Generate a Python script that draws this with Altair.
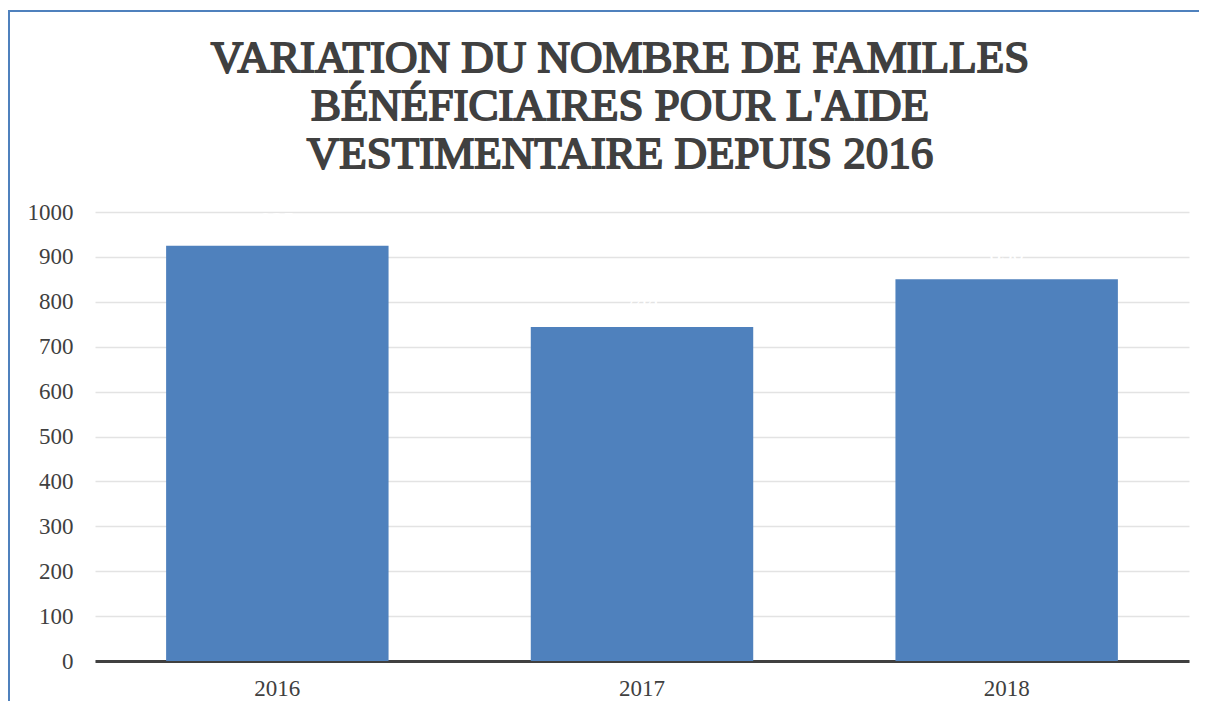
import altair as alt
import pandas as pd

years = ["2016", "2017", "2018"]
familles = [925, 744, 850]
title_lines = ["VARIATION DU NOMBRE DE FAMILLES", "BÉNÉFICIAIRES POUR L'AIDE",
               "VESTIMENTAIRE DEPUIS 2016"]

df = pd.DataFrame({"annee": years, "familles": familles})

W, H = 1094, 449
FONT = "Liberation Serif"

base = alt.Chart(df)

bars = base.mark_bar(color="#4F81BD").encode(
    x=alt.X("annee:N", title=None, sort=years,
            scale=alt.Scale(paddingInner=0.39, paddingOuter=0.195),
            axis=alt.Axis(labelAngle=0, labelFont=FONT, labelFontSize=23,
                          labelColor="#404040", domainColor="#404040",
                          domainWidth=3, ticks=False, labelPadding=16)),
    y=alt.Y("familles:Q", title=None,
            scale=alt.Scale(domain=[0, 1000]),
            axis=alt.Axis(values=list(range(0, 1001, 100)), format="d",
                          labelFont=FONT, labelFontSize=23, labelColor="#404040",
                          domain=False, ticks=False, labelPadding=22,
                          gridColor="#e3e3e3", gridWidth=1.5)),
)

labels = base.mark_text(color="white", font=FONT, fontSize=23,
                        baseline="middle", dy=-25).encode(
    x=alt.X("annee:N", sort=years),
    y="familles:Q",
    text="familles:Q",
)

title = alt.Chart(pd.DataFrame({"t": [0]})).mark_text(
    text=title_lines, font=FONT, fontSize=45, fontWeight="normal",
    color="#404040", stroke="#404040", strokeWidth=1.8,
    lineHeight=48, align="center", baseline="alphabetic",
).encode(x=alt.value(525), y=alt.value(-140))

border = base.mark_rect(filled=False, stroke="#4F81BD", strokeWidth=2).encode(
    x=alt.value(-86), x2=alt.value(W + 200),
    y=alt.value(-201), y2=alt.value(H + 200),
)

chart = alt.layer(bars, labels, title, border).properties(
    width=W, height=H,
    autosize=alt.AutoSizeParams(type="none"),
    padding={"left": 87, "top": 204, "right": 10, "bottom": 40},
).configure_view(stroke=None)

chart.save("out.html", embed_options={"renderer": "svg", "actions": False})
